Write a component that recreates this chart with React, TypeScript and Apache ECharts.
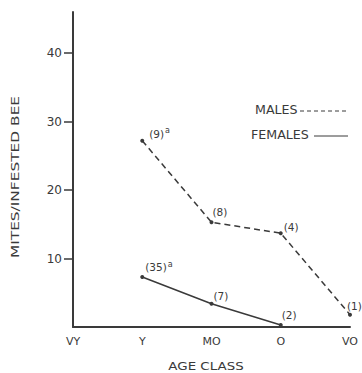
import React, { useEffect, useRef } from "react";
import * as echarts from "echarts";

const categories = ["VY", "Y", "MO", "O", "VO"];
const males = [null, 27.2, 15.3, 13.7, 1.8];
const females = [null, 7.3, 3.4, 0.3, null];
const maleLabels = ["", "(9){s|a}", "(8)", "(4)", "(1)"];
const femaleLabels = ["", "(35){s|a}", "(7)", "(2)", ""];
const yTicks = [10, 20, 30, 40];

const ink = "#3a3a3a";
const font = "DejaVu Sans, sans-serif";

export default function App() {
  const ref = useRef<HTMLDivElement>(null);
  useEffect(() => {
    const chart = echarts.init(ref.current!, null, { renderer: "svg" });
    const lbl = (texts: string[], offsets: number[][]) => (v: any, i: number) => ({
      value: v,
      label: {
        show: texts[i] !== "",
        formatter: texts[i],
        position: "right",
        distance: 5,
        offset: offsets[i],
        color: ink,
        fontSize: 10.5,
        fontFamily: font,
        rich: { s: { fontSize: 8, verticalAlign: "top", color: ink, padding: [0, 0, 6, 1] } },
      },
    });
    chart.setOption({
      animation: false,
      grid: { left: 73, right: 12, top: 12, bottom: 46 },
      xAxis: {
        type: "category",
        data: categories,
        boundaryGap: false,
        axisLine: { lineStyle: { color: ink, width: 2 } },
        axisTick: { show: false },
        axisLabel: { color: ink, fontSize: 11, fontFamily: font, margin: 9 },
      },
      yAxis: {
        type: "value",
        min: 0,
        max: 46,
        splitLine: { show: false },
        axisLine: { show: true, lineStyle: { color: ink, width: 2 } },
        axisTick: { show: true, customValues: yTicks, length: 9, lineStyle: { color: ink, width: 1.5 } },
        axisLabel: { customValues: yTicks, color: ink, fontSize: 12, fontFamily: font, margin: 11 },
      },
      series: [
        {
          type: "line",
          data: males.map(lbl(maleLabels, [[0, 0], [0, -7], [-6, -10], [-4, -6], [-10, -9]])),
          symbol: "circle",
          symbolSize: 4,
          itemStyle: { color: ink },
          lineStyle: { color: ink, width: 1.5, type: [6, 4] },
        },
        {
          type: "line",
          data: females.map(lbl(femaleLabels, [[0, 0], [-4, -10], [-5, -8], [-6, -10], [0, 0]])),
          symbol: "circle",
          symbolSize: 4,
          itemStyle: { color: ink },
          lineStyle: { color: ink, width: 1.5 },
        },
      ],
      graphic: [
        {
          type: "text", x: 15, y: 177, rotation: Math.PI / 2, scaleX: 1.4,
          style: { text: "MITES/INFESTED BEE", fill: ink, fontSize: 11, fontFamily: font, align: "center", verticalAlign: "middle" },
        },
        {
          type: "text", x: 206, y: 366, scaleX: 1.22,
          style: { text: "AGE CLASS", fill: ink, fontSize: 11, fontFamily: font, align: "center", verticalAlign: "middle" },
        },
        { type: "text", x: 255, y: 110, scaleX: 1.1, style: { text: "MALES", fill: ink, fontSize: 11.5, fontFamily: font, verticalAlign: "middle" } },
        { type: "line", shape: { x1: 300, y1: 111, x2: 346, y2: 111 }, style: { stroke: ink, lineWidth: 1, lineDash: [4, 3] } },
        { type: "text", x: 251, y: 135, scaleX: 1.1, style: { text: "FEMALES", fill: ink, fontSize: 11.5, fontFamily: font, verticalAlign: "middle" } },
        { type: "line", shape: { x1: 314, y1: 136, x2: 348, y2: 136 }, style: { stroke: ink, lineWidth: 1 } },
      ],
    });
    return () => chart.dispose();
  }, []);
  return <div ref={ref} style={{ width: 362, height: 373, position: "absolute", left: 0, top: 0 }} />;
}
